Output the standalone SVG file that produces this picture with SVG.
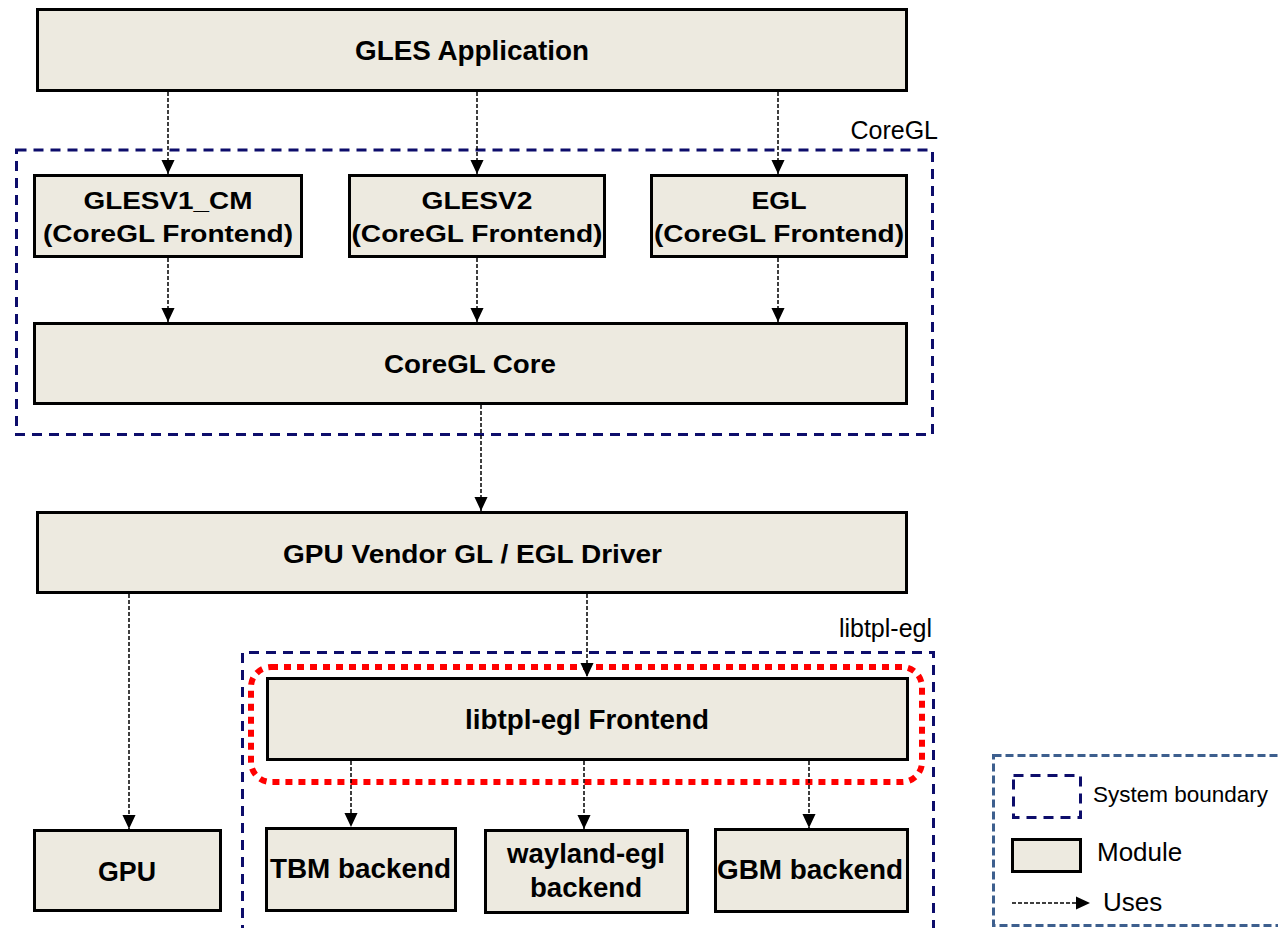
<svg xmlns="http://www.w3.org/2000/svg" width="1278" height="928" viewBox="0 0 1278 928">
<defs>
<style>
.mod{fill:#EDEAE0;stroke:#000;stroke-width:3}
.t{font-family:"Liberation Sans",Arial,sans-serif;font-weight:bold;fill:#000;text-anchor:middle}
.r{font-family:"Liberation Sans",Arial,sans-serif;fill:#000}
.bnd{fill:none;stroke:#0D0D6B;stroke-width:3;stroke-dasharray:10 7}
.use{fill:none;stroke:#000;stroke-width:1.5;stroke-dasharray:4 2}
</style>
<marker id="ah" markerWidth="14" markerHeight="15" viewBox="0 0 15 14" refX="15" refY="7" orient="auto" markerUnits="userSpaceOnUse">
<path d="M0,0 L15,7 L0,14 Z" fill="#000"/>
</marker>
</defs>
<rect width="1278" height="928" fill="#fff"/>

<g id="coregl-boundary">
<rect class="bnd" x="16.5" y="150" width="916" height="284.5"/>
<text class="r" x="938" y="139" font-size="25" text-anchor="end">CoreGL</text>
</g>
<g id="libtpl-boundary">
<path class="bnd" d="M242.5,935 V652.5 H933.5 V935"/>
<text class="r" x="932" y="637" font-size="25" text-anchor="end">libtpl-egl</text>
</g>

<g id="gles-app">
<rect class="mod" x="37.5" y="9.5" width="869" height="81"/>
<text class="t" x="472" y="60" font-size="27" textLength="234" lengthAdjust="spacingAndGlyphs">GLES Application</text>
</g>
<g id="glesv1">
<rect class="mod" x="34.5" y="175.5" width="267" height="81"/>
<text class="t" x="168" y="209" font-size="24" textLength="169" lengthAdjust="spacingAndGlyphs">GLESV1_CM</text>
<text class="t" x="168" y="242" font-size="24" textLength="250" lengthAdjust="spacingAndGlyphs">(CoreGL Frontend)</text>
</g>
<g id="glesv2">
<rect class="mod" x="349.5" y="175.5" width="255" height="81"/>
<text class="t" x="477" y="209" font-size="24" textLength="111" lengthAdjust="spacingAndGlyphs">GLESV2</text>
<text class="t" x="477" y="242" font-size="24" textLength="251" lengthAdjust="spacingAndGlyphs">(CoreGL Frontend)</text>
</g>
<g id="egl">
<rect class="mod" x="651.5" y="175.5" width="255" height="81"/>
<text class="t" x="779" y="209" font-size="24" textLength="55" lengthAdjust="spacingAndGlyphs">EGL</text>
<text class="t" x="779" y="242" font-size="24" textLength="250" lengthAdjust="spacingAndGlyphs">(CoreGL Frontend)</text>
</g>
<g id="coregl-core">
<rect class="mod" x="34.5" y="323.5" width="872" height="80"/>
<text class="t" x="470" y="373" font-size="26" textLength="172" lengthAdjust="spacingAndGlyphs">CoreGL Core</text>
</g>
<g id="gpu-vendor">
<rect class="mod" x="37.5" y="512.5" width="869" height="80"/>
<text class="t" x="472.5" y="563" font-size="26" textLength="379" lengthAdjust="spacingAndGlyphs">GPU Vendor GL / EGL Driver</text>
</g>
<g id="highlight">
<rect x="251" y="667" width="671" height="115" rx="20" ry="20" fill="none" stroke="#FF0000" stroke-width="6" stroke-dasharray="7 6"/>
</g>
<g id="libtpl-frontend">
<rect class="mod" x="267.5" y="678.5" width="640" height="81"/>
<text class="t" x="587" y="729" font-size="27" textLength="244" lengthAdjust="spacingAndGlyphs">libtpl-egl Frontend</text>
</g>
<g id="gpu">
<rect class="mod" x="34.5" y="830.5" width="186" height="80"/>
<text class="t" x="127" y="881" font-size="27" textLength="58" lengthAdjust="spacingAndGlyphs">GPU</text>
</g>
<g id="tbm">
<rect class="mod" x="266.5" y="828.5" width="189" height="82"/>
<text class="t" x="360.5" y="878" font-size="27" textLength="181" lengthAdjust="spacingAndGlyphs">TBM backend</text>
</g>
<g id="wayland">
<rect class="mod" x="485.5" y="830.5" width="202" height="82"/>
<text class="t" x="586" y="863" font-size="27" textLength="158" lengthAdjust="spacingAndGlyphs">wayland-egl</text>
<text class="t" x="586" y="897" font-size="27" textLength="112" lengthAdjust="spacingAndGlyphs">backend</text>
</g>
<g id="gbm">
<rect class="mod" x="715.5" y="829.5" width="192" height="82"/>
<text class="t" x="810" y="879" font-size="27" textLength="186" lengthAdjust="spacingAndGlyphs">GBM backend</text>
</g>

<g id="connectors">
<line class="use" x1="168" y1="92" x2="168" y2="174" marker-end="url(#ah)"/>
<line class="use" x1="477" y1="92" x2="477" y2="174" marker-end="url(#ah)"/>
<line class="use" x1="778" y1="92" x2="778" y2="174" marker-end="url(#ah)"/>
<line class="use" x1="168" y1="258" x2="168" y2="322" marker-end="url(#ah)"/>
<line class="use" x1="477" y1="258" x2="477" y2="322" marker-end="url(#ah)"/>
<line class="use" x1="778" y1="258" x2="778" y2="322" marker-end="url(#ah)"/>
<line class="use" x1="481" y1="405" x2="481" y2="511" marker-end="url(#ah)"/>
<line class="use" x1="129" y1="594" x2="129" y2="829" marker-end="url(#ah)"/>
<line class="use" x1="587" y1="594" x2="587" y2="677" marker-end="url(#ah)"/>
<line class="use" x1="351" y1="761" x2="351" y2="827" marker-end="url(#ah)"/>
<line class="use" x1="584" y1="761" x2="584" y2="829" marker-end="url(#ah)"/>
<line class="use" x1="809" y1="761" x2="809" y2="828" marker-end="url(#ah)"/>
</g>

<g id="legend">
<rect x="993.5" y="755.5" width="300" height="170" fill="none" stroke="#3D5F8E" stroke-width="3" stroke-dasharray="8 4"/>
<rect class="bnd" x="1013.5" y="775.5" width="67" height="42"/>
<text class="r" x="1093" y="802" font-size="22.5">System boundary</text>
<rect class="mod" x="1012.5" y="839.5" width="68" height="32"/>
<text class="r" x="1097" y="861" font-size="26">Module</text>
<line class="use" x1="1012" y1="903" x2="1090" y2="903" marker-end="url(#ah)"/>
<text class="r" x="1103" y="911" font-size="26">Uses</text>
</g>
</svg>
